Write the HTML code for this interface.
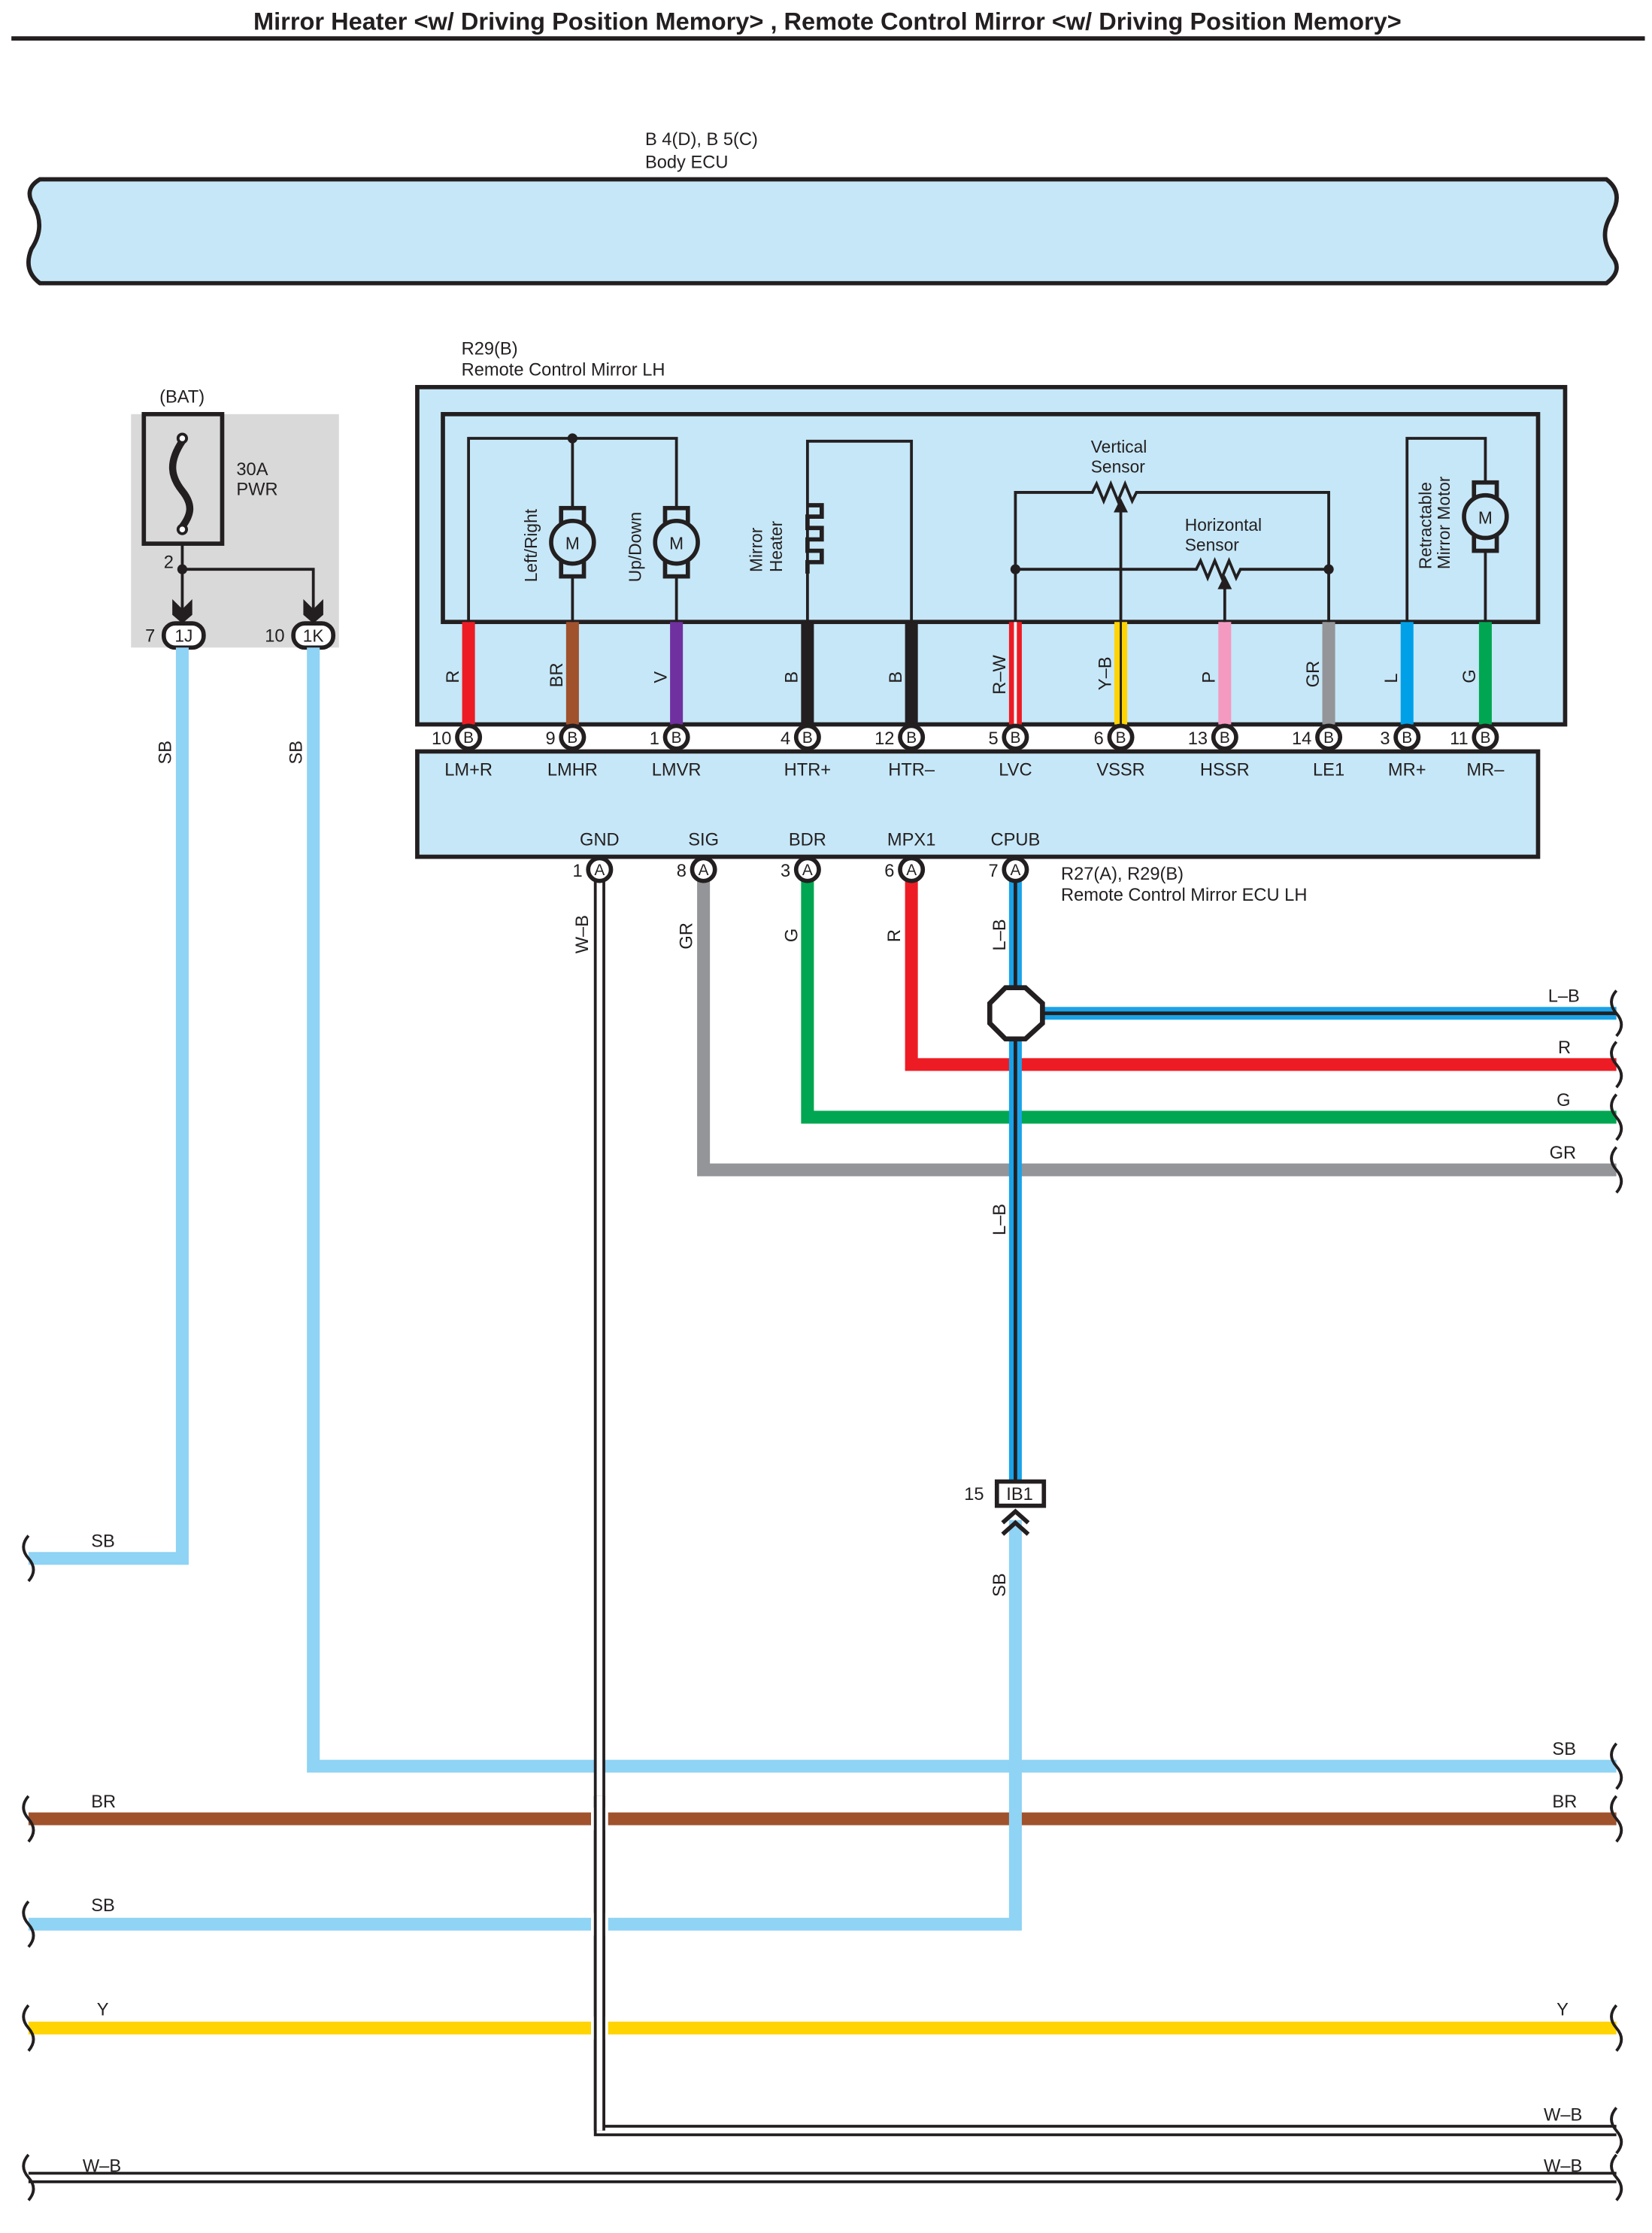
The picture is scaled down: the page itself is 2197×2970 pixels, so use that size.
<!DOCTYPE html>
<html><head><meta charset="utf-8"><style>html,body{margin:0;padding:0;background:#fff}svg{display:block}text{font-family:"Liberation Sans",sans-serif;fill:#231f20}</style></head><body>
<svg width="2197" height="2970" viewBox="0 0 1160 1569" preserveAspectRatio="none" xmlns="http://www.w3.org/2000/svg">
<text x="581" y="21" font-size="17.2" font-weight="bold" text-anchor="middle">Mirror Heater &lt;w/ Driving Position Memory&gt; , Remote Control Mirror &lt;w/ Driving Position Memory&gt;</text>
<line x1="8" y1="27" x2="1155" y2="27" stroke="#231f20" stroke-width="3"/>
<text x="453" y="102" font-size="12.5">B 4(D), B 5(C)</text>
<text x="453" y="118" font-size="12.5">Body ECU</text>
<path d="M28,126 L1128,126 Q1140,135 1132,150 Q1122,165 1132,180 Q1140,190 1128,199 L28,199 Q16,190 22,175 Q32,160 24,145 Q16,133 28,126 Z" fill="#c6e7f7" stroke="#231f20" stroke-width="3"/>

<!-- BAT -->
<text x="112" y="283" font-size="12.5">(BAT)</text>
<rect x="92" y="291" width="146" height="164" fill="#d9d9da"/>
<rect x="101" y="291" width="55" height="91" fill="none" stroke="#231f20" stroke-width="3"/>
<path d="M128,310 C118,325 120,335 128,345 C136,355 134,362 128,370" fill="none" stroke="#231f20" stroke-width="5"/>
<circle cx="128" cy="308" r="3" fill="#fff" stroke="#231f20" stroke-width="2"/>
<circle cx="128" cy="372" r="3" fill="#fff" stroke="#231f20" stroke-width="2"/>
<text x="166" y="334" font-size="12.5">30A</text>
<text x="166" y="348" font-size="12.5">PWR</text>
<text x="115" y="399" font-size="12.5">2</text>
<path d="M128,382 V430 M128,400 H220 V430" fill="none" stroke="#231f20" stroke-width="2"/>
<circle cx="128" cy="400" r="3.5" fill="#231f20"/>
<path d="M121,421 L128,428 L135,421 L135,432 L128,438 L121,432 Z M213,421 L220,428 L227,421 L227,432 L220,438 L213,432 Z" fill="#231f20"/>
<rect x="115" y="438" width="28" height="17" rx="8" fill="#fff" stroke="#231f20" stroke-width="3"/>
<rect x="206" y="438" width="28" height="17" rx="8" fill="#fff" stroke="#231f20" stroke-width="3"/>
<text x="129" y="451" font-size="12" text-anchor="middle">1J</text>
<text x="220" y="451" font-size="12" text-anchor="middle">1K</text>
<text x="102" y="451" font-size="12.5">7</text>
<text x="186" y="451" font-size="12.5">10</text>

<!-- main horizontal wires -->
<g fill="none" stroke-width="9">
<path d="M128,455 V1095 H20" stroke="#8fd3f5"/>
<path d="M220,455 V1241 H1135" stroke="#8fd3f5"/>
<path d="M20,1278 H1135" stroke="#a0522d"/>
<path d="M713,1068 V1352 H20" stroke="#8fd3f5"/>
<path d="M20,1425 H1135" stroke="#ffd400"/>
</g>
<text x="64" y="1087" font-size="12.5">SB</text>
<text x="64" y="1270" font-size="12.5">BR</text>
<text x="64" y="1343" font-size="12.5">SB</text>
<text x="68" y="1416" font-size="12.5">Y</text>
<text x="58" y="1526" font-size="12.5">W–B</text>
<text x="1090" y="1233" font-size="12.5">SB</text>
<text x="1090" y="1270" font-size="12.5">BR</text>
<text x="1093" y="1416" font-size="12.5">Y</text>
<text x="1084" y="1490" font-size="12.5">W–B</text>
<text x="1084" y="1526" font-size="12.5">W–B</text>
<text transform="translate(120,537) rotate(-90)" font-size="12.5">SB</text>
<text transform="translate(212,537) rotate(-90)" font-size="12.5">SB</text>

<!-- ECU output wires -->
<g fill="none">
<path d="M494,611 V822 H1135" stroke="#939598" stroke-width="9"/>
<path d="M567,611 V785 H1135" stroke="#00a651" stroke-width="9"/>
<path d="M640,611 V748 H1135" stroke="#ed1c24" stroke-width="9"/>
<path d="M713,611 V1045" stroke="#1aa3e8" stroke-width="9"/>
<path d="M713,611 V1045" stroke="#231f20" stroke-width="2.5"/>
<path d="M713,712 H1135" stroke="#1aa3e8" stroke-width="9"/>
<path d="M713,712 H1135" stroke="#231f20" stroke-width="2.5"/>
<path d="M421,611 V1497 H1135" stroke="#231f20" stroke-width="8"/>
<path d="M421,611 V1497 H1135" stroke="#fff" stroke-width="4"/>
<path d="M20,1530 H1135" stroke="#231f20" stroke-width="8"/>
<path d="M20,1530 H1135" stroke="#fff" stroke-width="4"/>
</g>
<g fill="#fff"><rect x="415" y="1270" width="12" height="16"/><rect x="415" y="1344" width="12" height="16"/><rect x="415" y="1417" width="12" height="16"/></g>
<path d="M421,1262 V1497" fill="none" stroke="#231f20" stroke-width="8"/>
<path d="M421,1262 V1497" fill="none" stroke="#fff" stroke-width="4"/>
<polygon points="706,694 720,694 732,705 732,719 720,730 706,730 695,719 695,705" fill="#fff" stroke="#231f20" stroke-width="3.5"/>
<text transform="translate(413,670) rotate(-90)" font-size="12.5">W–B</text>
<text transform="translate(486,667) rotate(-90)" font-size="12.5">GR</text>
<text transform="translate(560,662) rotate(-90)" font-size="12.5">G</text>
<text transform="translate(632,662) rotate(-90)" font-size="12.5">R</text>
<text transform="translate(706,668) rotate(-90)" font-size="12.5">L–B</text>
<text transform="translate(706,868) rotate(-90)" font-size="12.5">L–B</text>
<text transform="translate(706,1122) rotate(-90)" font-size="12.5">SB</text>
<text x="1087" y="704" font-size="12.5">L–B</text>
<text x="1094" y="740" font-size="12.5">R</text>
<text x="1093" y="777" font-size="12.5">G</text>
<text x="1088" y="814" font-size="12.5">GR</text>
<rect x="700" y="1041" width="33" height="17" fill="#fff" stroke="#231f20" stroke-width="3"/>
<text x="716" y="1054" font-size="12.5" text-anchor="middle">IB1</text>
<text x="677" y="1054" font-size="12.5">15</text>
<path d="M704,1070 L713,1062 L722,1070 M704,1078 L713,1070 L722,1078" fill="none" stroke="#231f20" stroke-width="3"/>

<g fill="none" stroke="#231f20" stroke-width="2">
<path d="M20,1079 q-7,8 0,16 q7,8 0,16"/>
<path d="M20,1262 q-7,8 0,16 q7,8 0,16"/>
<path d="M20,1336 q-7,8 0,16 q7,8 0,16"/>
<path d="M20,1409 q-7,8 0,16 q7,8 0,16"/>
<path d="M20,1514 q-7,8 0,16 q7,8 0,16"/>
<path d="M1135,696 q-7,8 0,16 q7,8 0,16"/>
<path d="M1135,732 q-7,8 0,16 q7,8 0,16"/>
<path d="M1135,769 q-7,8 0,16 q7,8 0,16"/>
<path d="M1135,806 q-7,8 0,16 q7,8 0,16"/>
<path d="M1135,1225 q-7,8 0,16 q7,8 0,16"/>
<path d="M1135,1262 q-7,8 0,16 q7,8 0,16"/>
<path d="M1135,1409 q-7,8 0,16 q7,8 0,16"/>
<path d="M1135,1481 q-7,8 0,16 q7,8 0,16"/>
<path d="M1135,1514 q-7,8 0,16 q7,8 0,16"/>
</g>

<text x="324" y="249" font-size="12.5">R29(B)</text>
<text x="324" y="264" font-size="12.5">Remote Control Mirror LH</text>
<rect x="293" y="272" width="806" height="237" fill="#c6e7f7" stroke="#231f20" stroke-width="3"/>
<rect x="311" y="291" width="769" height="146" fill="none" stroke="#231f20" stroke-width="3"/>
<g fill="none" stroke-width="9">
<line x1="329" y1="437" x2="329" y2="509" stroke="#ed1c24"/>
<line x1="402" y1="437" x2="402" y2="509" stroke="#a0522d"/>
<line x1="475" y1="437" x2="475" y2="509" stroke="#7030a0"/>
<line x1="567" y1="437" x2="567" y2="509" stroke="#231f20"/>
<line x1="640" y1="437" x2="640" y2="509" stroke="#231f20"/>
<line x1="713" y1="437" x2="713" y2="509" stroke="#ed1c24"/>
<line x1="787" y1="437" x2="787" y2="509" stroke="#ffd400"/>
<line x1="860" y1="437" x2="860" y2="509" stroke="#f49ac1"/>
<line x1="933" y1="437" x2="933" y2="509" stroke="#939598"/>
<line x1="988" y1="437" x2="988" y2="509" stroke="#00a0e9"/>
<line x1="1043" y1="437" x2="1043" y2="509" stroke="#00a651"/>
</g>
<g stroke="#fff" stroke-width="2"><line x1="713" y1="437" x2="713" y2="509"/></g>
<g stroke="#231f20" stroke-width="1.5"><line x1="787" y1="437" x2="787" y2="509"/></g>
<g font-size="12.5">
<text transform="translate(322,480) rotate(-90)">R</text>
<text transform="translate(395,483) rotate(-90)">BR</text>
<text transform="translate(468,480) rotate(-90)">V</text>
<text transform="translate(560,480) rotate(-90)">B</text>
<text transform="translate(633,480) rotate(-90)">B</text>
<text transform="translate(706,488) rotate(-90)">R–W</text>
<text transform="translate(780,485) rotate(-90)">Y–B</text>
<text transform="translate(853,480) rotate(-90)">P</text>
<text transform="translate(926,483) rotate(-90)">GR</text>
<text transform="translate(981,480) rotate(-90)">L</text>
<text transform="translate(1036,480) rotate(-90)">G</text>
</g>
<g fill="none" stroke="#231f20" stroke-width="2">
<path d="M329,437 V308 H475 V437 M402,308 V437"/>
<path d="M567,437 V310 H640 V437"/>
<path d="M713,437 V346 H767 l3,-6 l5,12 l5,-12 l5,12 l5,-12 l5,12 l3,-6 H933 V437"/>
<path d="M713,400 H840 l3,-6 l5,12 l5,-12 l5,12 l5,-12 l5,12 l3,-6 H933"/>
<path d="M787,437 V352 M860,437 V406"/>
<path d="M988,437 V308 H1043 V437"/>
</g>
<path d="M782,360 L787,350 L792,360 Z M855,414 L860,404 L865,414 Z" fill="#231f20"/>
<circle cx="402" cy="308" r="3.5" fill="#231f20"/>
<circle cx="713" cy="400" r="3.5" fill="#231f20"/>
<circle cx="933" cy="400" r="3.5" fill="#231f20"/>
<path d="M567,355 h10 v8 h-10 v8 h10 v8 h-10 v8 h10 v8 h-10 v8" fill="none" stroke="#231f20" stroke-width="3"/>
<g fill="#c6e7f7" stroke="#231f20" stroke-width="3">
<rect x="394" y="357" width="16" height="48"/><circle cx="402" cy="381" r="15"/>
<rect x="467" y="357" width="16" height="48"/><circle cx="475" cy="381" r="15"/>
<rect x="1035" y="339" width="16" height="48"/><circle cx="1043" cy="363" r="15"/>
</g>
<g font-size="12">
<text x="402" y="386" text-anchor="middle">M</text>
<text x="475" y="386" text-anchor="middle">M</text>
<text x="1043" y="368" text-anchor="middle">M</text>
<text transform="translate(377,409) rotate(-90)">Left/Right</text>
<text transform="translate(450,409) rotate(-90)">Up/Down</text>
<text transform="translate(535,402) rotate(-90)">Mirror</text>
<text transform="translate(549,402) rotate(-90)">Heater</text>
<text transform="translate(1005,400) rotate(-90)">Retractable</text>
<text transform="translate(1018,400) rotate(-90)">Mirror Motor</text>
<text x="766" y="318">Vertical</text>
<text x="766" y="332">Sensor</text>
<text x="832" y="373">Horizontal</text>
<text x="832" y="387">Sensor</text>
</g>
<rect x="293" y="528" width="787" height="74" fill="#c6e7f7" stroke="#231f20" stroke-width="3"/>
<g font-size="12.5" text-anchor="middle">
<text x="329" y="545">LM+R</text><text x="402" y="545">LMHR</text><text x="475" y="545">LMVR</text>
<text x="567" y="545">HTR+</text><text x="640" y="545">HTR–</text><text x="713" y="545">LVC</text>
<text x="787" y="545">VSSR</text><text x="860" y="545">HSSR</text><text x="933" y="545">LE1</text>
<text x="988" y="545">MR+</text><text x="1043" y="545">MR–</text>
<text x="421" y="594">GND</text><text x="494" y="594">SIG</text><text x="567" y="594">BDR</text>
<text x="640" y="594">MPX1</text><text x="713" y="594">CPUB</text>
</g>
<text x="745" y="618" font-size="12.5">R27(A), R29(B)</text>
<text x="745" y="633" font-size="12.5">Remote Control Mirror ECU LH</text>
<g fill="#fff" stroke="#231f20" stroke-width="3">
<circle cx="329" cy="518" r="8"/><circle cx="402" cy="518" r="8"/><circle cx="475" cy="518" r="8"/>
<circle cx="567" cy="518" r="8"/><circle cx="640" cy="518" r="8"/><circle cx="713" cy="518" r="8"/>
<circle cx="787" cy="518" r="8"/><circle cx="860" cy="518" r="8"/><circle cx="933" cy="518" r="8"/>
<circle cx="988" cy="518" r="8"/><circle cx="1043" cy="518" r="8"/>
<circle cx="421" cy="611" r="8"/><circle cx="494" cy="611" r="8"/><circle cx="567" cy="611" r="8"/>
<circle cx="640" cy="611" r="8"/><circle cx="713" cy="611" r="8"/>
</g>
<g font-size="11" text-anchor="middle">
<text x="329" y="522">B</text><text x="402" y="522">B</text><text x="475" y="522">B</text>
<text x="567" y="522">B</text><text x="640" y="522">B</text><text x="713" y="522">B</text>
<text x="787" y="522">B</text><text x="860" y="522">B</text><text x="933" y="522">B</text>
<text x="988" y="522">B</text><text x="1043" y="522">B</text>
<text x="421" y="615">A</text><text x="494" y="615">A</text><text x="567" y="615">A</text>
<text x="640" y="615">A</text><text x="713" y="615">A</text>
</g>
<g font-size="12.5" text-anchor="end">
<text x="317" y="523">10</text><text x="390" y="523">9</text><text x="463" y="523">1</text>
<text x="555" y="523">4</text><text x="628" y="523">12</text><text x="701" y="523">5</text>
<text x="775" y="523">6</text><text x="848" y="523">13</text><text x="921" y="523">14</text>
<text x="976" y="523">3</text><text x="1031" y="523">11</text>
<text x="409" y="616">1</text><text x="482" y="616">8</text><text x="555" y="616">3</text>
<text x="628" y="616">6</text><text x="701" y="616">7</text>
</g>
</svg>
</body></html>
